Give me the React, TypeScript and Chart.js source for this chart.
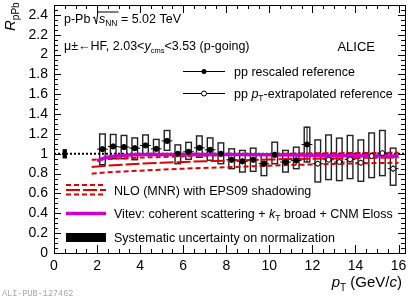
import React, { useEffect, useRef } from 'react';
import { Chart, registerables } from 'chart.js';

Chart.register(...registerables);

// ---------- data ----------
const ppRescaledPt = [2.25, 2.75, 3.25, 3.75, 4.25, 4.75, 5.25, 5.75, 6.25, 6.75, 7.25, 7.75, 8.25, 8.75, 9.25, 9.75, 10.25, 10.75, 11.25, 11.75];
const ppRescaledR = [1.047, 1.074, 1.068, 1.057, 1.084, 1.05, 1.13, 1.0, 1.02, 1.06, 1.04, 1.0, 0.94, 0.924, 0.94, 0.9, 0.99, 0.917, 0.934, 1.094];
const ppRescaledStat = [0.02, 0.02, 0.02, 0.02, 0.02, 0.02, 0.02, 0.02, 0.02, 0.025, 0.025, 0.025, 0.03, 0.03, 0.03, 0.03, 0.03, 0.035, 0.04, 0.18];
const ppRescaledSysLow = [0.89, 0.95, 0.95, 0.94, 0.99, 0.99, 1.035, 0.9, 0.945, 0.965, 0.935, 0.9, 0.85, 0.816, 0.823, 0.78, 0.9, 0.816, 0.85, 0.917];
const ppRescaledSysHigh = [1.2, 1.195, 1.185, 1.16, 1.19, 1.145, 1.235, 1.09, 1.115, 1.18, 1.16, 1.11, 1.05, 1.034, 1.057, 0.99, 1.117, 1.034, 1.067, 1.268];

const ppExtrapPt = [12.25, 12.75, 13.25, 13.75, 14.25, 14.75, 15.25, 15.75];
const ppExtrapR = [0.9, 0.94, 0.917, 0.944, 0.91, 0.977, 1.007, 0.85];
const ppExtrapStat = [0.03, 0.03, 0.03, 0.03, 0.03, 0.03, 0.03, 0.035];
const ppExtrapSysLow = [0.716, 0.74, 0.73, 0.75, 0.723, 0.76, 0.78, 0.683];
const ppExtrapSysHigh = [1.14, 1.19, 1.158, 1.185, 1.14, 1.21, 1.235, 1.057];

const binHalfWidth = 0.25;
const sysBoxHalfWidth = 0.13;

const nloPt = [1.75, 2, 3, 4, 5, 6, 8, 10, 12, 14, 16];
const nloUpper = [0.94, 0.943, 0.953, 0.962, 0.968, 0.975, 0.988, 0.998, 1.004, 1.008, 1.01];
const nloCentral = [0.868, 0.872, 0.888, 0.9, 0.91, 0.918, 0.93, 0.942, 0.95, 0.958, 0.962];
const nloLower = [0.8, 0.805, 0.82, 0.83, 0.84, 0.85, 0.864, 0.88, 0.893, 0.903, 0.91];

const vitevPt = [2, 2.25, 2.5, 3, 3.5, 4, 5, 6, 8, 10, 12, 14, 16];
const vitevR = [0.93, 0.95, 0.965, 0.98, 0.988, 0.992, 0.993, 0.993, 0.992, 0.99, 0.985, 0.98, 0.977];

const unityX = [0, 16.3];
const unityY = [1, 1];

const normPt = 0.5;
const normHalfWidth = 0.1;
const normCenter = 1;
const normErr = 0.047;

const xMin = 0;
const xMax = 16.3;
const yMin = 0;
const yMax = 2.5;
const xMajor = 2;
const xMinor = 0.5;
const yMajor = 0.2;
const yMinor = 0.05;

const RED = '#e00000';
const MAGENTA = '#cc00cc';
const FONT = '"Liberation Sans", Arial, Helvetica, sans-serif';
const TS = 12.5;
const SS = 8.5;

type Part = [string, number, boolean?, number?];

function fontOf(size: number, italic?: boolean) {
  return `${italic ? 'italic ' : ''}${size}px ${FONT}`;
}

function richWidth(ctx: CanvasRenderingContext2D, parts: Part[]) {
  let w = 0;
  for (const p of parts) {
    ctx.font = fontOf(p[1], p[2]);
    w += ctx.measureText(p[0]).width;
  }
  return w;
}

function drawRich(ctx: CanvasRenderingContext2D, x: number, y: number, parts: Part[], align: 'left' | 'right' = 'left') {
  let cx = align === 'right' ? x - richWidth(ctx, parts) : x;
  ctx.textBaseline = 'alphabetic';
  ctx.textAlign = 'left';
  for (const p of parts) {
    ctx.font = fontOf(p[1], p[2]);
    ctx.fillText(p[0], cx, y + (p[3] || 0));
    cx += ctx.measureText(p[0]).width;
  }
  return cx;
}

const decorPlugin = {
  id: 'decor',
  beforeDatasetsDraw(chart: any) {
    const ctx: CanvasRenderingContext2D = chart.ctx;
    const xs = chart.scales.x;
    const ys = chart.scales.y;
    const area = chart.chartArea;
    ctx.save();
    ctx.beginPath();
    ctx.rect(area.left, area.top, area.right - area.left, area.bottom - area.top);
    ctx.clip();
    // systematic boxes
    ctx.strokeStyle = '#222';
    ctx.lineWidth = 1.4;
    const boxes = (pts: number[], lo: number[], hi: number[]) => {
      pts.forEach((pt, i) => {
        const x1 = xs.getPixelForValue(pt - sysBoxHalfWidth);
        const x2 = xs.getPixelForValue(pt + sysBoxHalfWidth);
        const y1 = ys.getPixelForValue(hi[i]);
        const y2 = ys.getPixelForValue(lo[i]);
        ctx.strokeRect(x1, y1, x2 - x1, y2 - y1);
      });
    };
    boxes(ppRescaledPt, ppRescaledSysLow, ppRescaledSysHigh);
    boxes(ppExtrapPt, ppExtrapSysLow, ppExtrapSysHigh);
    // error bars
    ctx.strokeStyle = '#000';
    ctx.lineWidth = 1;
    const bars = (pts: number[], vals: number[], errs: number[]) => {
      pts.forEach((pt, i) => {
        const xl = xs.getPixelForValue(pt - binHalfWidth);
        const xr = xs.getPixelForValue(pt + binHalfWidth);
        const xc = xs.getPixelForValue(pt);
        const yc = ys.getPixelForValue(vals[i]);
        const yt = ys.getPixelForValue(vals[i] + errs[i]);
        const yb = ys.getPixelForValue(vals[i] - errs[i]);
        ctx.beginPath();
        ctx.moveTo(xl, yc);
        ctx.lineTo(xr, yc);
        ctx.moveTo(xc, yt);
        ctx.lineTo(xc, yb);
        ctx.stroke();
      });
    };
    bars(ppRescaledPt, ppRescaledR, ppRescaledStat);
    bars(ppExtrapPt, ppExtrapR, ppExtrapStat);
    // normalization uncertainty box
    ctx.fillStyle = '#000';
    const nx1 = xs.getPixelForValue(normPt - normHalfWidth);
    const nx2 = xs.getPixelForValue(normPt + normHalfWidth);
    const ny1 = ys.getPixelForValue(normCenter + normErr);
    const ny2 = ys.getPixelForValue(normCenter - normErr);
    ctx.fillRect(nx1, ny1, nx2 - nx1, ny2 - ny1);
    ctx.restore();
  },
  afterDraw(chart: any) {
    const ctx: CanvasRenderingContext2D = chart.ctx;
    const xs = chart.scales.x;
    const ys = chart.scales.y;
    const { left, right, top, bottom } = chart.chartArea;
    ctx.save();
    // frame
    ctx.strokeStyle = '#000';
    ctx.lineWidth = 1;
    ctx.strokeRect(Math.round(left) + 0.5, Math.round(top) + 0.5, Math.round(right - left), Math.round(bottom - top));
    // ticks
    ctx.beginPath();
    for (let v = xMin; v <= xMax + 1e-9; v += xMinor) {
      const isMajor = Math.abs(v / xMajor - Math.round(v / xMajor)) < 1e-6;
      const len = isMajor ? 8 : 4;
      const px = Math.round(xs.getPixelForValue(v)) + 0.5;
      ctx.moveTo(px, bottom);
      ctx.lineTo(px, bottom - len);
      ctx.moveTo(px, top);
      ctx.lineTo(px, top + len);
    }
    for (let v = yMin; v <= yMax + 1e-9; v += yMinor) {
      const isMajor = Math.abs(v / yMajor - Math.round(v / yMajor)) < 1e-6;
      const len = isMajor ? 7 : 4;
      const py = Math.round(ys.getPixelForValue(v)) + 0.5;
      ctx.moveTo(left, py);
      ctx.lineTo(left + len, py);
      ctx.moveTo(right, py);
      ctx.lineTo(right - len, py);
    }
    ctx.stroke();

    ctx.fillStyle = '#000';
    // header line 1 : p-Pb sqrt(s_NN) = 5.02 TeV
    const by = 23;
    let cx = drawRich(ctx, 64, by, [['p-Pb ', TS]]);
    ctx.lineWidth = 1;
    ctx.beginPath();
    ctx.moveTo(cx - 1, by - 5);
    ctx.lineTo(cx + 0.5, by - 6);
    ctx.lineTo(cx + 2.5, by + 1);
    ctx.lineTo(cx + 4, by - 11);
    const sx = cx + 5;
    const endS = richWidth(ctx, [['s', TS, true], ['NN', SS, false, 3]]);
    ctx.lineTo(sx + endS + 1, by - 11);
    ctx.stroke();
    cx = drawRich(ctx, sx, by, [['s', TS, true], ['NN', SS, false, 3]]);
    drawRich(ctx, cx, by, [[' = 5.02 TeV', TS]]);

    // header line 2
    drawRich(ctx, 64, 50, [
      ['\u03bc\u00b1\u2190HF, 2.03<', TS],
      ['y', TS, true],
      ['cms', 7.5, false, 3],
      ['<3.53 (p-going)', TS],
    ]);

    // ALICE
    drawRich(ctx, 375, 51, [['ALICE', 13]], 'right');

    // upper legend
    ctx.lineWidth = 1;
    ctx.beginPath();
    ctx.moveTo(183, 71.5);
    ctx.lineTo(225, 71.5);
    ctx.moveTo(183, 93.5);
    ctx.lineTo(225, 93.5);
    ctx.stroke();
    ctx.beginPath();
    ctx.arc(204, 71.5, 2.5, 0, Math.PI * 2);
    ctx.fill();
    ctx.beginPath();
    ctx.fillStyle = '#fff';
    ctx.arc(204, 93.5, 2.5, 0, Math.PI * 2);
    ctx.fill();
    ctx.stroke();
    ctx.fillStyle = '#000';
    drawRich(ctx, 234, 76, [['pp rescaled reference', TS]]);
    drawRich(ctx, 234, 98, [['pp ', TS], ['p', TS, true], ['T', SS, false, 3], ['-extrapolated reference', TS]]);

    // lower legend: NLO
    ctx.strokeStyle = RED;
    ctx.lineWidth = 2;
    ctx.setLineDash([5, 3]);
    ctx.beginPath();
    ctx.moveTo(66, 185);
    ctx.lineTo(106, 185);
    ctx.moveTo(66, 194.5);
    ctx.lineTo(106, 194.5);
    ctx.stroke();
    ctx.setLineDash([14, 3]);
    ctx.beginPath();
    ctx.moveTo(66, 190);
    ctx.lineTo(106, 190);
    ctx.stroke();
    ctx.setLineDash([]);
    // Vitev
    ctx.strokeStyle = MAGENTA;
    ctx.lineWidth = 3.5;
    ctx.beginPath();
    ctx.moveTo(66, 213.5);
    ctx.lineTo(106, 213.5);
    ctx.stroke();
    // norm box
    ctx.fillStyle = '#000';
    ctx.fillRect(66, 233, 40, 9);

    drawRich(ctx, 114, 195, [['NLO (MNR) with EPS09 shadowing', TS]]);
    drawRich(ctx, 114, 218, [
      ['Vitev: coherent scattering + ', TS],
      ['k', TS, true],
      ['T', SS, false, 3],
      [' broad + CNM Eloss', TS],
    ]);
    drawRich(ctx, 114, 242, [['Systematic uncertainty on normalization', TS]]);

    // axis titles
    drawRich(ctx, 402, 287, [
      ['p', 15, true],
      ['T', 10, false, 4],
      [' (GeV/', 15],
      ['c', 15, true],
      [')', 15],
    ], 'right');

    ctx.save();
    ctx.translate(15, 31);
    ctx.rotate(-Math.PI / 2);
    drawRich(ctx, 0, 0, [['R', 15, true], ['pPb', 10, false, 4]]);
    ctx.restore();

    // watermark
    ctx.fillStyle = '#a8a8a8';
    ctx.font = '8.5px "Liberation Mono", "DejaVu Sans Mono", monospace';
    ctx.textAlign = 'left';
    ctx.textBaseline = 'alphabetic';
    ctx.fillText('ALI-PUB-127462', 2, 296);

    ctx.restore();
  },
};

function pts(xs: number[], ys: number[]) {
  return xs.map((x, i) => ({ x, y: ys[i] }));
}

function zeroPad(s: any) {
  s.paddingTop = 0;
  s.paddingBottom = 0;
  s.paddingLeft = 0;
  s.paddingRight = 0;
}

export default function App() {
  const ref = useRef<HTMLCanvasElement | null>(null);

  useEffect(() => {
    document.body.style.margin = '0';
    const canvas = ref.current;
    if (!canvas) return;
    const lineDs = (data: any, color: string, width: number, dash: number[], order: number) => ({
      type: 'line',
      data,
      showLine: true,
      borderColor: color,
      backgroundColor: color,
      borderWidth: width,
      borderDash: dash,
      pointRadius: 0,
      fill: false,
      cubicInterpolationMode: 'monotone',
      order,
    });
    const chart = new Chart(canvas, {
      type: 'scatter',
      data: {
        datasets: [
          {
            data: pts(ppRescaledPt, ppRescaledR),
            pointRadius: 2.6,
            pointBackgroundColor: '#000',
            pointBorderColor: '#000',
            pointBorderWidth: 1,
            showLine: false,
            order: 0,
          } as any,
          {
            data: pts(ppExtrapPt, ppExtrapR),
            pointRadius: 2.4,
            pointBackgroundColor: '#fff',
            pointBorderColor: '#000',
            pointBorderWidth: 1,
            showLine: false,
            order: 0,
          } as any,
          lineDs(pts(vitevPt, vitevR), MAGENTA, 3.5, [], 1),
          lineDs(pts(nloPt, nloUpper), RED, 2, [5, 3], 2),
          lineDs(pts(nloPt, nloCentral), RED, 2, [14, 3], 2),
          lineDs(pts(nloPt, nloLower), RED, 2, [5, 3], 2),
          lineDs(pts(unityX, unityY), '#000', 2, [2, 2], 3),
        ],
      },
      options: {
        animation: false,
        responsive: false,
        devicePixelRatio: 1,
        layout: { padding: { left: 0, right: 10, top: 4, bottom: 0 } },
        plugins: { legend: { display: false }, tooltip: { enabled: false } },
        scales: {
          x: {
            type: 'linear',
            min: xMin,
            max: xMax,
            afterFit: (s: any) => { s.height = 45; zeroPad(s); },
            grid: { display: false, drawTicks: false },
            border: { display: false },
            ticks: {
              stepSize: xMajor,
              includeBounds: false,
              autoSkip: false,
              maxRotation: 0,
              padding: 5,
              color: '#000',
              font: { family: FONT, size: 14 },
              callback: (v: any) => String(Math.round(Number(v))),
            },
          },
          y: {
            type: 'linear',
            min: yMin,
            max: yMax,
            afterFit: (s: any) => { s.width = 54; zeroPad(s); },
            grid: { display: false, drawTicks: false },
            border: { display: false },
            ticks: {
              stepSize: yMajor,
              includeBounds: false,
              autoSkip: false,
              padding: 6,
              color: '#000',
              font: { family: FONT, size: 14 },
              callback: (v: any) => String(Number(Number(v).toFixed(1))),
            },
          },
        },
      } as any,
      plugins: [decorPlugin],
    });
    return () => chart.destroy();
  }, []);

  return (
    <div style={{ position: 'absolute', left: 0, top: 0, width: 415, height: 298, background: '#fff' }}>
      <canvas ref={ref} width={415} height={298} style={{ display: 'block', width: 415, height: 298 }} />
    </div>
  );
}
